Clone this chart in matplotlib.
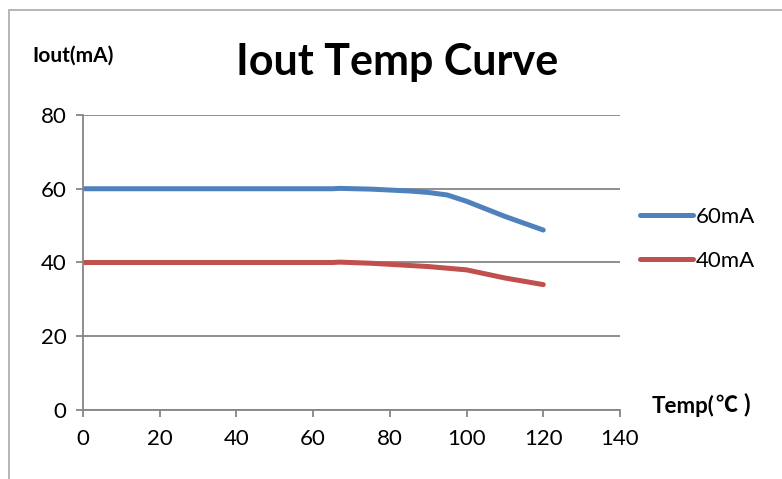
import matplotlib.pyplot as plt
from matplotlib.patches import Rectangle

plt.rcParams['font.family'] = ['Lato', 'Noto Sans CJK SC', 'DejaVu Sans']

# readings
temp_60 = [0, 65, 67, 75, 85, 90, 95, 100, 110, 120]
iout_60 = [60, 60, 60.1, 59.9, 59.4, 59.0, 58.3, 56.6, 52.5, 48.8]
temp_40 = [0, 65, 67, 75, 85, 90, 100, 110, 120]
iout_40 = [40, 40, 40.1, 39.8, 39.2, 38.9, 38.0, 35.8, 34.0]
labels = ['60mA', '40mA']
colors = ['#4F81BD', '#C0504D']

fig = plt.figure(figsize=(7.82, 4.79), dpi=100)
ax = fig.add_axes([0.1061, 0.1441, 0.6867, 0.6158])

ax.plot(temp_60, iout_60, color=colors[0], lw=3.6, solid_capstyle='round',
        solid_joinstyle='round', label=labels[0])
ax.plot(temp_40, iout_40, color=colors[1], lw=3.6, solid_capstyle='round',
        solid_joinstyle='round', label=labels[1])

ax.set_xlim(0, 140)
ax.set_ylim(0, 80)
ax.set_xticks(range(0, 141, 20))
ax.set_yticks(range(0, 81, 20))
ax.grid(axis='y', color='#868686', lw=1.3)
ax.set_axisbelow(True)
for s in ['top', 'right']:
    ax.spines[s].set_visible(False)
for s in ['left', 'bottom']:
    ax.spines[s].set_color('#868686')
    ax.spines[s].set_linewidth(1.3)
ax.tick_params(colors='#868686', labelcolor='black', labelsize=16, length=5,
               width=1.3)
ax.tick_params(axis='x', pad=9)
ax.tick_params(axis='y', pad=7)

leg = ax.legend(loc='center left', bbox_to_anchor=(1.0, 0.58), frameon=False,
                fontsize=16, handlelength=2.4, handletextpad=0.1, labelspacing=1.1)

fig.text(0.508, 0.87, 'Iout Temp Curve', fontsize=31, fontweight='bold',
         ha='center', va='center')
fig.text(0.041, 0.883, 'Iout(mA)', fontsize=15, fontweight='bold',
         ha='left', va='center')
fig.text(0.833, 0.152, 'Temp(', fontsize=16, fontweight='bold',
         ha='left', va='center')
fig.text(0.916, 0.152, '℃ )', fontsize=16, fontweight='bold',
         family=['Noto Sans CJK SC'], ha='left', va='center')

# outer frame of the chart
fig.patches.append(Rectangle((9 / 782, -0.05), 1.0, (479 - 10) / 479 + 0.05,
                             transform=fig.transFigure, fill=False,
                             edgecolor='#B0B0B0', lw=1.3))

fig.savefig('out.png', dpi=100)
